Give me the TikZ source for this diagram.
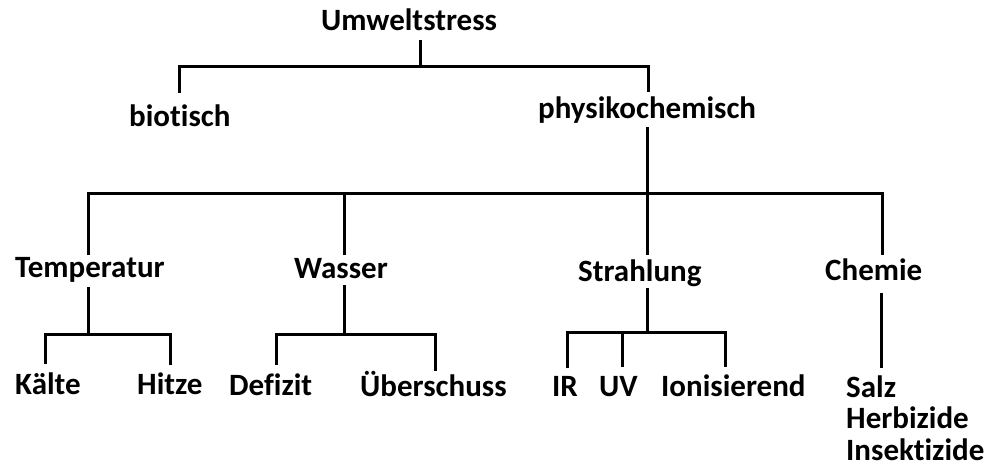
\documentclass[tikz,border=0pt]{standalone}
\usepackage{fontspec}
\setmainfont{Carlito}[Ligatures={NoCommon,NoRare,NoContextual}]
\begin{document}
\begin{tikzpicture}[x=1pt,y=-1pt,
  lbl/.style={anchor=base west,inner sep=0pt,font=\fontsize{31}{34}\selectfont\bfseries,text=black},
  conn/.style={line width=3pt,draw=black,line cap=butt,line join=miter}]
\useasboundingbox[fill=white] (0,0) rectangle (986,466);
% nodes
\node[lbl] (root) at (321,30) {Umweltstress};
\node[lbl] (bio) at (129,126) {biotisch};
\node[lbl] (phy) at (538,118) {physikochemisch};
\node[lbl] (temp) at (15,277) {Temperatur};
\node[lbl] (wasser) at (294,278) {Wasser};
\node[lbl] (strahl) at (578,281) {Strahlung};
\node[lbl] (chem) at (825,280) {Chemie};
\node[lbl] (kaelte) at (15,394) {Kälte};
\node[lbl] (hitze) at (137,394) {Hitze};
\node[lbl] (defizit) at (229,395) {Defizit};
\node[lbl] (ueber) at (360,396) {Überschuss};
\node[lbl] (ir) at (552,396) {IR};
\node[lbl] (uv) at (599,396) {UV};
\node[lbl] (ion) at (661,396) {Ionisierend};
\node[lbl] (salz) at (846,397) {Salz};
\node[lbl] (herb) at (846,428) {Herbizide};
\node[lbl] (insekt) at (846,460) {Insektizide};
% connector end points
\coordinate (rootS) at (420,40);
\coordinate (bioN) at (179,93);
\coordinate (phyN) at (648,92);
\coordinate (phyS) at (647,127);
\coordinate (tempN) at (88,255);
\coordinate (wasserN) at (344,255);
\coordinate (strahlN) at (647,255);
\coordinate (chemN) at (882,255);
\coordinate (tempS) at (88,287);
\coordinate (kaelteN) at (45,364);
\coordinate (hitzeN) at (170,365);
\coordinate (wasserS) at (344,285);
\coordinate (defizitN) at (276,365);
\coordinate (ueberN) at (435,371);
\coordinate (strahlS) at (647,288);
\coordinate (irN) at (567,368);
\coordinate (uvN) at (622,367);
\coordinate (ionN) at (725,367);
\coordinate (chemS) at (881,293);
\coordinate (salzN) at (881,368);
% connectors
\draw[conn] (rootS) -- (rootS |- 0,66);
\draw[conn] (bioN) -- ++(0,-27) -| (phyN);
\draw[conn] (phyS) -- (phyS |- 0,193);
\draw[conn] (tempN) -- ++(0,-62) -| (chemN);
\draw[conn] (wasserN) -- ++(0,-62);
\draw[conn] (strahlN) -- ++(0,-62);
\draw[conn] (tempS) -- (tempS |- 0,334);
\draw[conn] (kaelteN) -- ++(0,-30) -| (hitzeN);
\draw[conn] (wasserS) -- (wasserS |- 0,334);
\draw[conn] (defizitN) -- ++(0,-31) -| (ueberN);
\draw[conn] (strahlS) -- (strahlS |- 0,332);
\draw[conn] (irN) -- ++(0,-36) -| (ionN);
\draw[conn] (uvN) -- ++(0,-35);
\draw[conn] (chemS) -- (salzN);
\end{tikzpicture}
\end{document}
